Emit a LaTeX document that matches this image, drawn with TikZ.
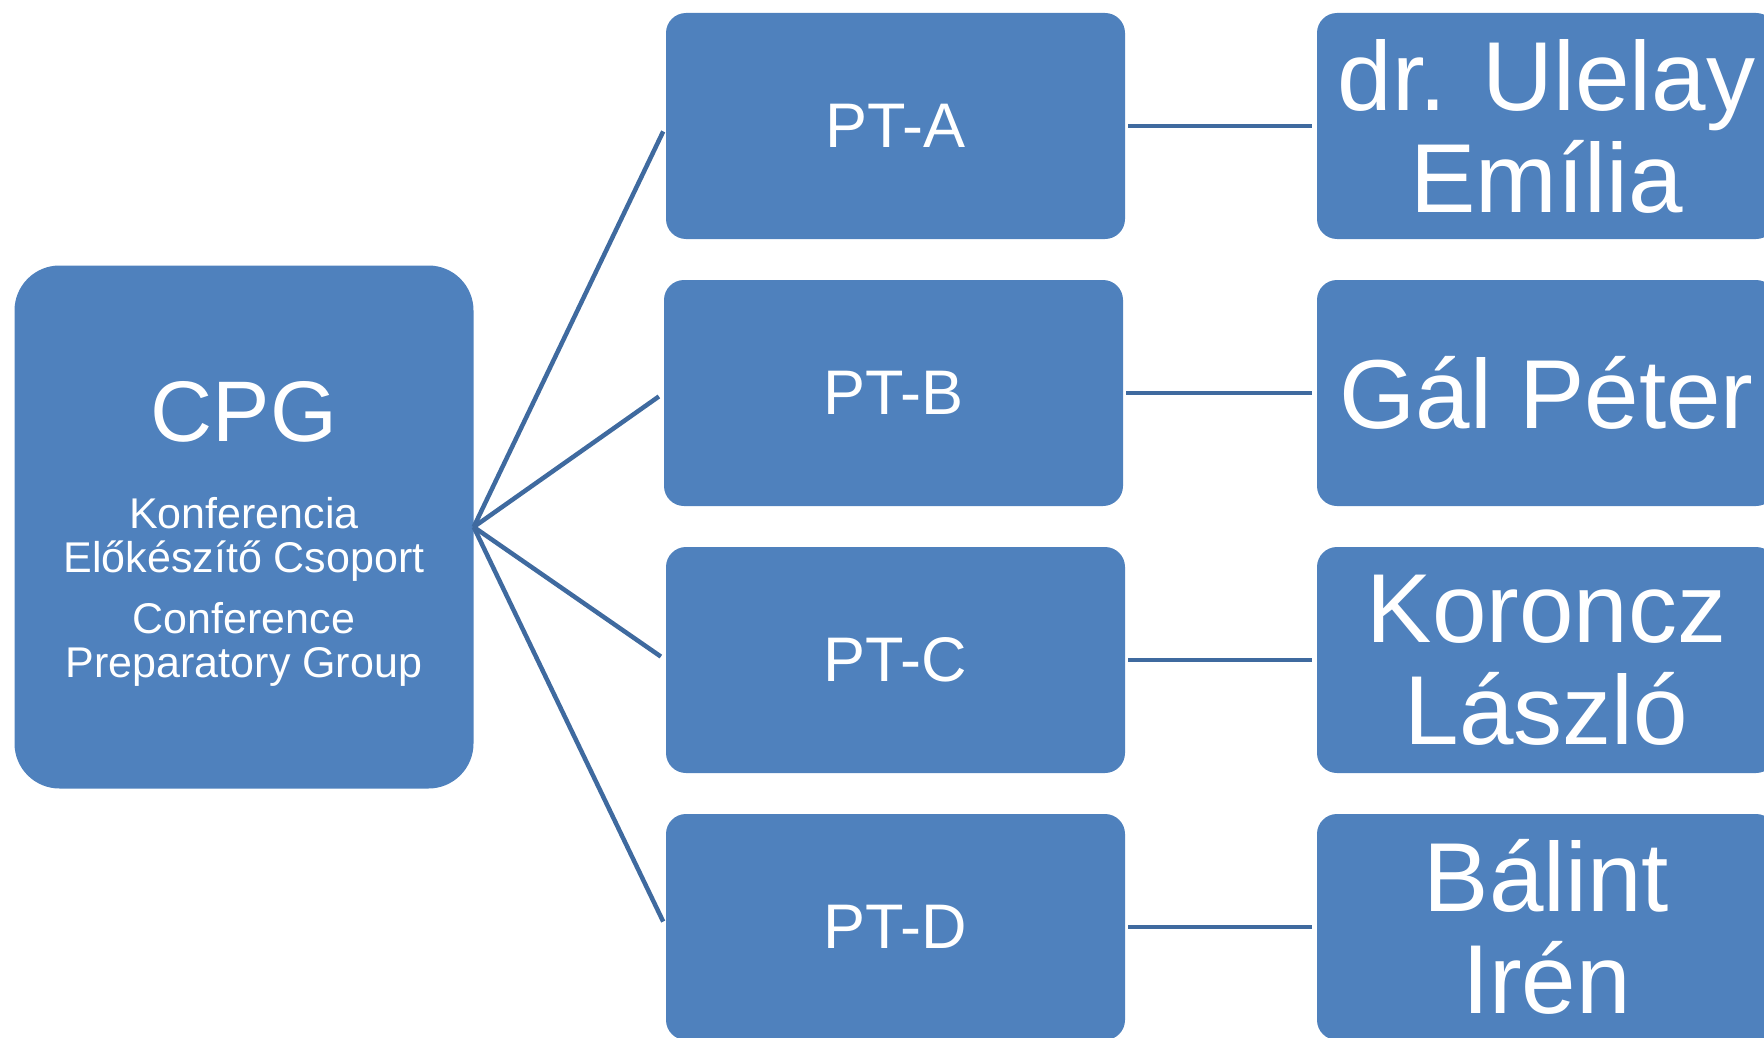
\documentclass[tikz,border=0pt]{standalone}
\usepackage{fontspec}
\setmainfont{Liberation Sans}
\definecolor{boxfill}{HTML}{4F81BD}
\definecolor{linkline}{HTML}{3F6A9F}
\newcommand\bigline{\fontsize{86}{86}\selectfont}
\newcommand\smallline{\fontsize{43}{44}\selectfont}
\begin{document}
\begin{tikzpicture}[x=1pt,y=-1pt,
  box/.style={fill=boxfill, draw=none, text=white, align=center,
    inner sep=0pt, minimum width=459pt, minimum height=226pt,
    rounded corners=20pt},
  headbox/.style={box, minimum height=523pt, rounded corners=45pt,
    font=\smallline},
  ptbox/.style={box, font=\fontsize{63}{63}\selectfont},
  namebox/.style={box, font=\fontsize{98}{102}\selectfont},
  fan/.style={draw=linkline, line width=4.5pt, shorten >=6pt},
  link/.style={draw=linkline, line width=4.5pt, shorten <=3pt, shorten >=5pt}]
\useasboundingbox (0,0) rectangle (1764,1038);
\clip (0,0) rectangle (1764,1038);

% head of the structure
\node[headbox] (cpg) at (244,527) {%
  {\bigline\rule{0pt}{73pt}CPG}\\[43pt]
  Konferencia\\Előkészítő Csoport\\[17pt]
  Conference\\Preparatory Group};

% working groups
\node[ptbox] (pta) at (895.5,126) {PT-A};
\node[ptbox] (ptb) at (893.5,393) {PT-B};
\node[ptbox] (ptc) at (895.5,660) {PT-C};
\node[ptbox] (ptd) at (895.5,927) {PT-D};

% group leaders
\node[namebox] (na) at (1546.5,126) {dr. Ulelay\\Emília};
\node[namebox] (nb) at (1546.5,393) {Gál Péter};
\node[namebox] (nc) at (1546.5,660) {Koroncz\\László};
\node[namebox] (nd) at (1546.5,927) {Bálint\\Irén};

% connectors from the head to the groups
\foreach \g in {pta,ptb,ptc,ptd}
  \draw[fan] (cpg.east) -- (\g.west);

% connectors from the groups to their leaders
\draw[link] (pta.east) -- (na.west);
\draw[link] (ptb.east) -- (nb.west);
\draw[link] (ptc.east) -- (nc.west);
\draw[link] (ptd.east) -- (nd.west);
\end{tikzpicture}
\end{document}
